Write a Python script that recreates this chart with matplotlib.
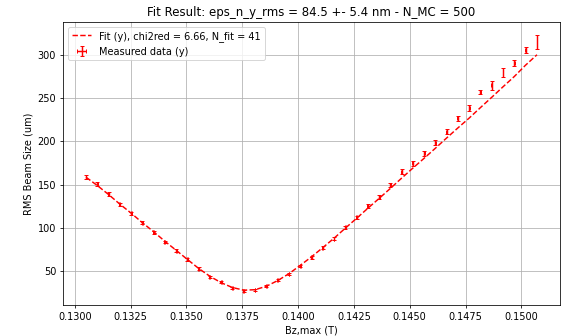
import matplotlib
matplotlib.use("Agg")
import matplotlib.pyplot as plt

# scan points: Bz,max (T)
bz = [0.13050, 0.13100, 0.13151, 0.13201, 0.13252, 0.13302, 0.13353, 0.13403,
      0.13454, 0.13504, 0.13555, 0.13605, 0.13656, 0.13706, 0.13757, 0.13807,
      0.13858, 0.13908, 0.13959, 0.14009, 0.14060, 0.14110, 0.14161, 0.14211,
      0.14262, 0.14312, 0.14363, 0.14413, 0.14464, 0.14514, 0.14565, 0.14615,
      0.14666, 0.14716, 0.14767, 0.14817, 0.14868, 0.14918, 0.14969, 0.15019,
      0.15070]

# measured rms beam size (um)
sig_meas = [159, 150.7, 139, 127, 116.7, 106, 95, 83.6, 73.5, 63.5, 52.7, 43.4,
            37, 30.7, 26.9, 28.4, 32.6, 39.6, 46.5, 55.8, 65.9, 77, 87.4, 100.6,
            112, 125.2, 135.6, 149.5, 165, 174.6, 186, 198.5, 211, 226.7, 238.5,
            257, 264.5, 279.5, 290, 305, 315]

sig_err = [2.5, 2, 2, 2, 2, 1.8, 1.8, 1.5, 1.5, 1.5, 1.5, 1.2, 1.2, 1.2, 1.2, 1.2,
           1.2, 1.2, 1.5, 1.5, 1.5, 1.5, 1.8, 1.8, 2, 2, 2.2, 2.5, 2.5, 3, 3.2, 3.2,
           3, 3, 3, 2.5, 5, 4.8, 3.5, 3.5, 8]

# fitted curve evaluated at the scan points
sig_fit = [158.5, 149, 138.5, 127.5, 117, 106, 95.5, 84.5, 74, 63.5, 53, 44,
           36.5, 31, 28, 28.5, 32.5, 39, 47, 56.5, 66.5, 77, 88, 99.5, 111,
           122.5, 134, 145.5, 157.5, 169, 180.5, 192, 204, 215.5, 227, 239, 251,
           263, 275, 288, 300]

xerr = [0.00002] * len(bz)

fig = plt.figure(figsize=(8, 336 / 70.125), dpi=70.125)
ax = fig.add_subplot(111)
fig.subplots_adjust(left=63 / 561, right=560 / 561, bottom=1 - 305 / 336, top=1 - 22 / 336)

ax.plot(bz, sig_fit, 'r--', label='Fit (y), chi2red = 6.66, N_fit = 41')
ax.errorbar(bz, sig_meas, yerr=sig_err, xerr=xerr, fmt='none', ecolor='r',
            capsize=2, elinewidth=1.5, label='Measured data (y)')

ax.set_xlabel('Bz,max (T)')
ax.set_ylabel('RMS Beam Size (um)')
ax.set_title('Fit Result: eps_n_y_rms = 84.5 +- 5.4 nm - N_MC = 500')
ax.grid(True)
ax.legend(loc='upper left')

fig.savefig('out.png', dpi=70.125)
